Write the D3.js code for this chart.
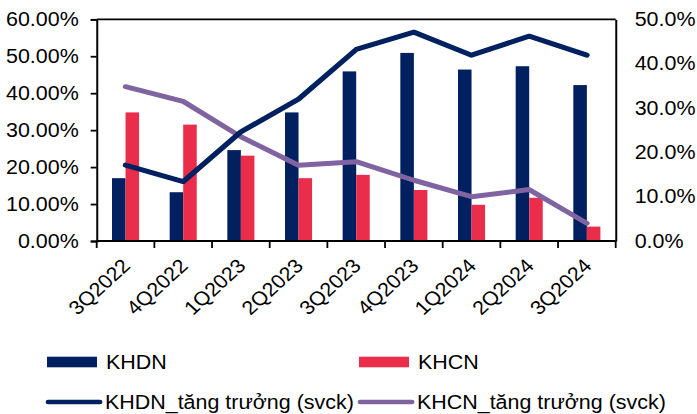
<!DOCTYPE html>
<html>
<head>
<meta charset="utf-8">
<script src="https://cdn.jsdelivr.net/npm/d3@7"></script>
<style>
  body { margin: 0; background: #fff; }
  svg text { font-family: "Liberation Sans", Arial, sans-serif; fill: #000; }
</style>
</head>
<body>
<svg id="chart"></svg>
<script>
// quarters on the x axis
let quarters = ["3Q2022", "4Q2022", "1Q2023", "2Q2023", "3Q2023", "4Q2023", "1Q2024", "2Q2024", "3Q2024"]
// bars, left axis (%)
let khdn = [17.0, 13.2, 24.6, 34.8, 45.9, 50.9, 46.4, 47.3, 42.2]
let khcn = [34.8, 31.5, 23.1, 17.0, 17.9, 13.8, 9.8, 11.7, 3.9]
// lines, right axis (%)
let khdnGrowth = [17.1, 13.4, 24.6, 32.0, 43.2, 47.1, 41.9, 46.2, 41.9]
let khcnGrowth = [34.8, 31.5, 23.5, 17.1, 17.9, 13.7, 10.0, 11.6, 4.0]
let leftTicks = [0, 10, 20, 30, 40, 50, 60]
let rightTicks = [0, 10, 20, 30, 40, 50]

let legendItems = [
    ["KHDN", "bar", "#002060"],
    ["KHCN", "bar", "#EA2D4B"],
    ["KHDN_tăng trưởng (svck)", "line", "#002060"],
    ["KHCN_tăng trưởng (svck)", "line", "#8064A2"]
]

// the picture is slightly stretched horizontally, draw in narrower units and stretch
let kx = 1.1
let width = 697, height = 414
let innerW = width / kx

let svg = d3.select("#chart")
    .attr("width", width)
    .attr("height", height)
    .attr("viewBox", "0 0 " + innerW + " " + height)
    .attr("preserveAspectRatio", "none")

let plot = {left: 96.7 / kx, right: 615.7 / kx, top: 19.3, bottom: 241}

let x = d3.scaleBand().domain(quarters).range([plot.left, plot.right]).padding(0)
let xSub = d3.scaleBand().domain(["KHDN", "KHCN"]).range([0, x.bandwidth()]).paddingInner(0).paddingOuter(1.13)
let yL = d3.scaleLinear().domain([0, 60]).range([plot.bottom, plot.top])
let yR = d3.scaleLinear().domain([0, 50]).range([plot.bottom, plot.top])

// bars
let groups = svg.append("g")
    .selectAll("g")
    .data(quarters)
    .enter()
    .append("g")
    .attr("transform", d => "translate(" + x(d) + ",0)")

groups.append("rect")
    .attr("x", xSub("KHDN"))
    .attr("width", xSub.bandwidth())
    .attr("y", (d, i) => yL(khdn[i]))
    .attr("height", (d, i) => plot.bottom - yL(khdn[i]))
    .style("fill", "#002060")

groups.append("rect")
    .attr("x", xSub("KHCN"))
    .attr("width", xSub.bandwidth())
    .attr("y", (d, i) => yL(khcn[i]))
    .attr("height", (d, i) => plot.bottom - yL(khcn[i]))
    .style("fill", "#EA2D4B")

// lines
let line = d3.line()
    .x((d, i) => x(quarters[i]) + x.bandwidth() / 2)
    .y(d => yR(d))

svg.append("path")
    .datum(khcnGrowth)
    .attr("d", line)
    .style("fill", "none")
    .style("stroke", "#8064A2")
    .style("stroke-width", 5)
    .style("stroke-linejoin", "round")
    .style("stroke-linecap", "round")

svg.append("path")
    .datum(khdnGrowth)
    .attr("d", line)
    .style("fill", "none")
    .style("stroke", "#002060")
    .style("stroke-width", 5)
    .style("stroke-linejoin", "round")
    .style("stroke-linecap", "round")

// left axis
let leftAxis = svg.append("g")
    .attr("transform", "translate(" + plot.left + ",0)")
    .call(d3.axisLeft(yL).tickValues(leftTicks).tickFormat(d => d.toFixed(2) + "%").tickSize(6 / kx).tickPadding(12 / kx))

// right axis
let rightAxis = svg.append("g")
    .attr("transform", "translate(" + plot.right + ",0)")
    .call(d3.axisRight(yR).tickValues(rightTicks).tickFormat(d => d.toFixed(1) + "%").tickSize(0).tickPadding(19 / kx))

// x axis, ticks at the band edges
let xAxis = svg.append("g")
    .attr("transform", "translate(0," + plot.bottom + ")")
    .call(d3.axisBottom(x).tickSize(0).tickFormat(""))

xAxis.selectAll(".edge")
    .data(d3.range(quarters.length + 1))
    .enter()
    .append("line")
    .attr("class", "edge")
    .attr("x1", i => plot.left + i * x.step())
    .attr("x2", i => plot.left + i * x.step())
    .attr("y1", 0)
    .attr("y2", 7)
    .style("stroke", "#000")
    .style("stroke-width", 1.8 / kx)

xAxis.selectAll(".tick text").remove()
svg.append("g")
    .selectAll("text")
    .data(quarters)
    .enter()
    .append("text")
    .attr("transform", d => "translate(" + (x(d) + x.bandwidth() / 2 + 6 / kx) + "," + (plot.bottom + 26) + ") rotate(-45)")
    .attr("text-anchor", "end")
    .style("font-size", "19.5px")
    .text(d => d)

// top border
svg.append("line")
    .attr("x1", plot.left)
    .attr("x2", plot.right)
    .attr("y1", plot.top)
    .attr("y2", plot.top)
    .style("stroke", "#000")
    .style("stroke-width", 1.8)

svg.selectAll(".domain").style("stroke", "#000").style("stroke-width", 1.8)
leftAxis.selectAll(".tick line").style("stroke", "#000").style("stroke-width", 1.8)
svg.selectAll(".tick text").style("font-size", "19.5px").style("font-family", "'Liberation Sans', Arial, sans-serif")
xAxis.select(".domain").attr("d", "M" + plot.left + ",0H" + plot.right)

// legend
let legendPos = [[47, 362], [359, 362], [47, 402], [359, 402]]
let legend = svg.append("g")
    .selectAll("g")
    .data(legendItems)
    .enter()
    .append("g")
    .attr("transform", (d, i) => "translate(" + legendPos[i][0] / kx + "," + legendPos[i][1] + ")")

legend.filter(d => d[1] == "bar")
    .append("rect")
    .attr("x", 0)
    .attr("y", -5.3)
    .attr("width", 50 / kx)
    .attr("height", 10.6)
    .style("fill", d => d[2])

legend.filter(d => d[1] == "line")
    .append("line")
    .attr("x1", 1)
    .attr("x2", 53 / kx)
    .attr("y1", 0)
    .attr("y2", 0)
    .style("stroke", d => d[2])
    .style("stroke-width", 4.5)
    .style("stroke-linecap", "round")

legend.append("text")
    .attr("x", d => (d[1] == "bar" ? 59 : 58) / kx)
    .attr("y", 7)
    .style("font-size", "19.5px")
    .text(d => d[0])
</script>
</body>
</html>
